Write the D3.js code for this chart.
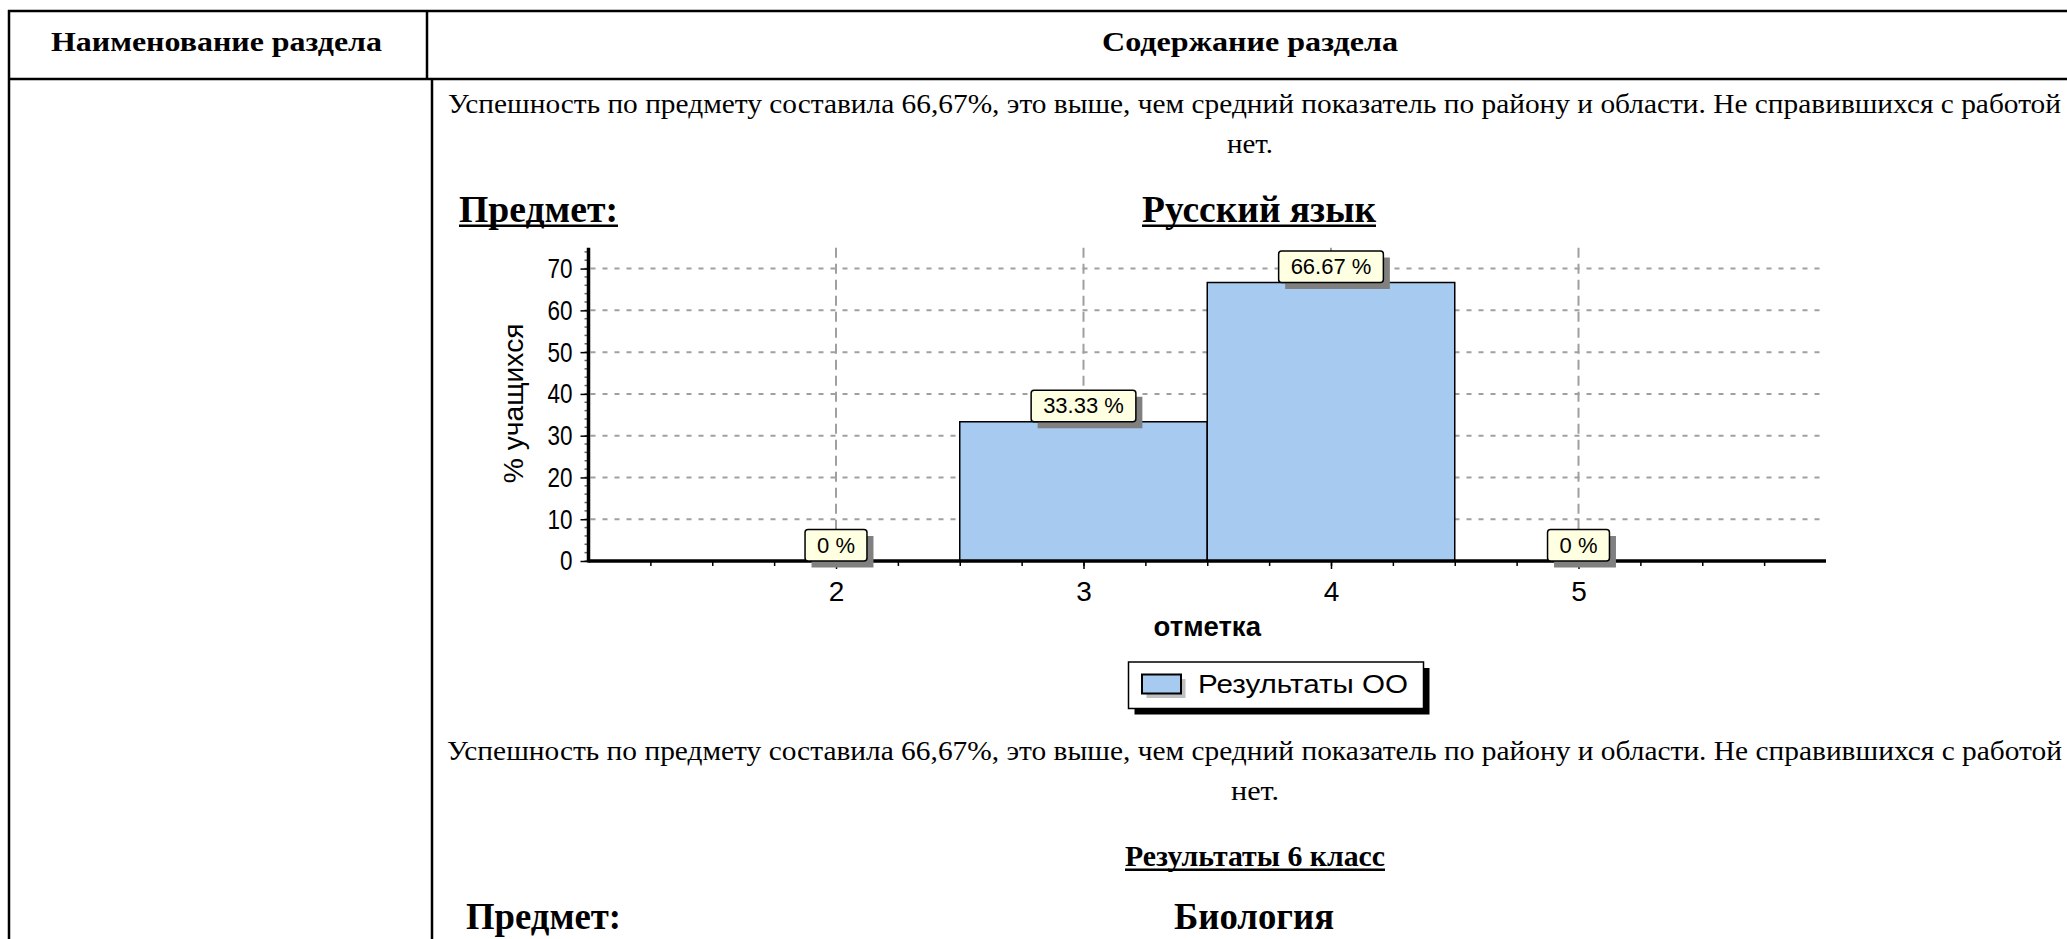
<!DOCTYPE html>
<html><head><meta charset="utf-8">
<script src="https://cdn.jsdelivr.net/npm/d3@7"></script>
<style>html,body{margin:0;padding:0;background:#fff;overflow:hidden}</style>
</head><body>
<script>
// ---- data ----
const grades = [2, 3, 4, 5];
const percents = [0, 33.33, 66.67, 0];
const valueLabels = ["0 %", "33.33 %", "66.67 %", "0 %"];
const yTickValues = [0, 10, 20, 30, 40, 50, 60, 70];
const seriesName = "Результаты ОО";
const subjectLabel = "Предмет:";
const subjectName = "Русский язык";
const xTitle = "отметка";
const yTitle = "% учащихся";
const headerCols = ["Наименование раздела", "Содержание раздела"];
const paragraphLine1 = "Успешность по предмету составила 66,67%, это выше, чем средний показатель по району и области. Не справившихся с работой";
const paragraphLine2 = "нет.";
const nextSection = "Результаты 6 класс";
const nextSubject = "Биология";

// ---- setup ----
const W = 2067, H = 939;
const svg = d3.select("body").append("svg").attr("width", W).attr("height", H);
svg.append("rect").attr("width", W).attr("height", H).attr("fill", "#fff");
const SERIF = "'Liberation Serif','Times New Roman',serif";
const SANS = "'Liberation Sans',Arial,sans-serif";

function text(parent, str, x, y, o = {}) {
  const t = parent.append("text").attr("x", x).attr("y", y).text(str)
    .attr("font-family", o.family || SERIF).attr("font-size", o.size || 26)
    .attr("font-weight", o.weight || "normal").attr("text-anchor", o.anchor || "start")
    .attr("fill", "#000");
  if (o.len) t.attr("textLength", o.len).attr("lengthAdjust", "spacingAndGlyphs");
  return t;
}
function hline(x1, x2, y, w) { svg.append("line").attr("x1", x1).attr("x2", x2).attr("y1", y).attr("y2", y).attr("stroke", "#000").attr("stroke-width", w); }
function vline(x, y1, y2, w) { svg.append("line").attr("x1", x).attr("x2", x).attr("y1", y1).attr("y2", y2).attr("stroke", "#000").attr("stroke-width", w); }

// ---- table ----
hline(8, W, 11, 2.5);
vline(9, 10, H, 2.5);
vline(427, 11, 79, 2.5);
hline(8, W, 79, 2.5);
vline(432, 79, H, 2.5);
text(svg, headerCols[0], 51, 51, { size: 28, weight: "bold", len: 331 });
text(svg, headerCols[1], 1102, 51, { size: 28, weight: "bold", len: 296 });

// paragraph 1
text(svg, paragraphLine1, 448, 113, { size: 27, len: 1613 });
text(svg, paragraphLine2, 1250, 153, { size: 27, anchor: "middle", len: 46 });

// chart title row
text(svg, subjectLabel, 459, 222, { size: 38, weight: "bold", len: 159 });
svg.append("rect").attr("x", 459).attr("y", 224.5).attr("width", 159).attr("height", 2.5).attr("fill", "#000");
text(svg, subjectName, 1142, 222, { size: 38, weight: "bold", len: 234 });
svg.append("rect").attr("x", 1142).attr("y", 224.5).attr("width", 234).attr("height", 2.5).attr("fill", "#000");

// ---- chart ----
const x = d3.scaleLinear().domain([1, 6]).range([588.5, 1826]);
const y = d3.scaleLinear().domain([0, 75]).range([561, 247.7]);
const chart = svg.append("g");

// grid
chart.selectAll(".hg").data(yTickValues.filter(d => d > 0)).join("line")
  .attr("x1", x(1) + 2).attr("x2", x(6)).attr("y1", d => y(d)).attr("y2", d => y(d))
  .attr("stroke", "#a0a0a0").attr("stroke-width", 2).attr("stroke-dasharray", "5,7");
chart.selectAll(".vg").data(grades).join("line")
  .attr("x1", d => x(d)).attr("x2", d => x(d)).attr("y1", y(75)).attr("y2", y(0))
  .attr("stroke", "#a0a0a0").attr("stroke-width", 2).attr("stroke-dasharray", "10,6");

// bars
chart.selectAll(".bar").data(grades.map((g, i) => ({ g, p: percents[i] })).filter(d => d.p > 0)).join("rect")
  .attr("x", d => x(d.g - 0.5)).attr("width", d => x(d.g + 0.5) - x(d.g - 0.5))
  .attr("y", d => y(d.p)).attr("height", d => y(0) - y(d.p))
  .attr("fill", "#A6CAF0").attr("stroke", "#000").attr("stroke-width", 1.5);

// x axis (minor + major)
const xMinor = chart.append("g").attr("transform", `translate(0,${y(0)})`)
  .call(d3.axisBottom(x).tickValues(d3.range(1.25, 6, 0.25)).tickSize(5).tickSizeOuter(0).tickFormat(""));
xMinor.select(".domain").remove();
xMinor.selectAll("line").attr("stroke", "#000").attr("stroke-width", 1.5);
const xMajor = chart.append("g").attr("transform", `translate(0,${y(0)})`)
  .call(d3.axisBottom(x).tickValues(grades).tickSize(8).tickSizeOuter(0).tickPadding(12.5).tickFormat(d3.format("d")));
xMajor.select(".domain").remove();
xMajor.selectAll("line").attr("stroke", "#000").attr("stroke-width", 1.5);
xMajor.selectAll("text").attr("font-family", SANS).attr("font-size", 28).attr("fill", "#000");
chart.append("line").attr("x1", x(1)).attr("x2", x(6)).attr("y1", y(0)).attr("y2", y(0))
  .attr("stroke", "#000").attr("stroke-width", 3.5);

// y axis
chart.selectAll(".ymin").data(d3.range(0, 75, 2)).join("line")
  .attr("x1", x(1) - 4).attr("x2", x(1)).attr("y1", d => y(d)).attr("y2", d => y(d))
  .attr("stroke", "#666").attr("stroke-width", 1.5);
const yAx = chart.append("g").attr("transform", `translate(${x(1)},0)`)
  .call(d3.axisLeft(y).tickValues(yTickValues).tickSize(8).tickSizeOuter(0).tickPadding(8));
yAx.select(".domain").remove();
yAx.selectAll("line").attr("stroke", "#000").attr("stroke-width", 1.5);
yAx.selectAll("text").attr("font-family", SANS).attr("font-size", 28).attr("fill", "#000")
  .attr("textLength", d => String(d).length * 12.5).attr("lengthAdjust", "spacingAndGlyphs");
chart.append("line").attr("x1", x(1)).attr("x2", x(1)).attr("y1", y(75)).attr("y2", y(0) + 1.5)
  .attr("stroke", "#000").attr("stroke-width", 3.5);

// axis titles
text(chart, xTitle, (x(1) + x(6)) / 2, 636, { family: SANS, size: 27.5, weight: "bold", anchor: "middle" });
text(chart, yTitle, 0, 0, { family: SANS, size: 27, anchor: "middle", len: 160 })
  .attr("transform", `translate(523,${(y(0) + y(75)) / 2 - 1}) rotate(-90)`);

// value labels
grades.forEach((g, i) => {
  const lg = chart.append("g");
  const t = text(lg, valueLabels[i], x(g), y(percents[i]) - 8.3, { family: SANS, size: 22, anchor: "middle" });
  const tw = t.node().getComputedTextLength();
  const bw = tw + 24, bh = 31.5;
  const bx = x(g) - bw / 2, by = y(percents[i]) - bh;
  lg.insert("rect", "text").attr("x", bx).attr("y", by).attr("width", bw).attr("height", bh).attr("rx", 3)
    .attr("fill", "#FFFFE1").attr("stroke", "#000").attr("stroke-width", 1.5);
  lg.insert("rect", "rect").attr("x", bx + 6.5).attr("y", by + 6.5).attr("width", bw).attr("height", bh)
    .attr("fill", "#808080");
});

// legend
const lgX = 1128.5, lgY = 662, lgW = 295, lgH = 46.5;
chart.append("rect").attr("x", lgX + 6).attr("y", lgY + 6).attr("width", lgW).attr("height", lgH).attr("fill", "#000");
chart.append("rect").attr("x", lgX).attr("y", lgY).attr("width", lgW).attr("height", lgH)
  .attr("fill", "#fff").attr("stroke", "#000").attr("stroke-width", 1.5);
chart.append("rect").attr("x", lgX + 18).attr("y", lgY + 17).attr("width", 39).attr("height", 19).attr("fill", "#c0c0c0");
chart.append("rect").attr("x", lgX + 13.5).attr("y", lgY + 12.5).attr("width", 39).attr("height", 19)
  .attr("fill", "#A6CAF0").attr("stroke", "#000").attr("stroke-width", 2);
text(chart, seriesName, lgX + 69.5, 693, { family: SANS, size: 25, len: 210 });

// paragraph 2 and following section
text(svg, paragraphLine1, 447, 760, { size: 27, len: 1615 });
text(svg, paragraphLine2, 1255, 800, { size: 27, anchor: "middle", len: 48 });
text(svg, nextSection, 1125, 866, { size: 30, weight: "bold", len: 260 });
svg.append("rect").attr("x", 1125).attr("y", 868.5).attr("width", 260).attr("height", 2.5).attr("fill", "#000");
text(svg, subjectLabel, 466, 929, { size: 38, weight: "bold", len: 155 });
text(svg, nextSubject, 1174, 929, { size: 38, weight: "bold", len: 160 });
</script>
</body></html>
